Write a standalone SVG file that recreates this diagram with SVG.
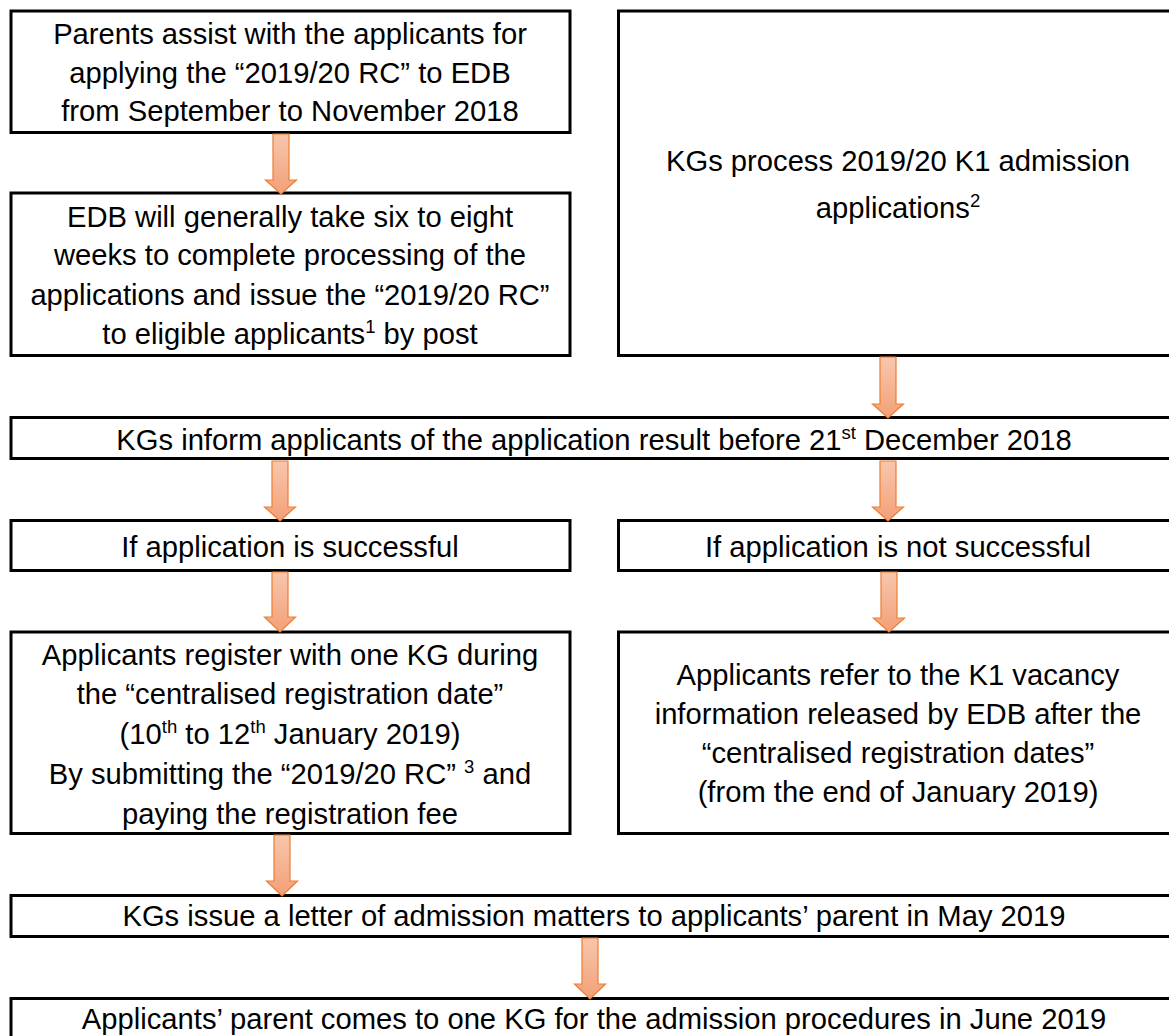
<svg xmlns="http://www.w3.org/2000/svg" width="1169" height="1036" viewBox="0 0 1169 1036">
<style>
.box{fill:#fff;stroke:#000;stroke-width:3}
text{font-family:"Liberation Sans",Arial,sans-serif;font-size:29.2px;fill:#000;text-anchor:middle}
.sup{font-size:18.5px}
.arr{fill:url(#g);stroke:#ed7d31;stroke-width:1.2}
</style>
<defs>
<linearGradient id="g" x1="0" y1="0" x2="0" y2="1">
<stop offset="0" stop-color="#f8c6ad"/>
<stop offset="1" stop-color="#f2a077"/>
</linearGradient>
</defs>
<rect width="1169" height="1036" fill="#fff"/>
<g id="n1"><rect class="box" x="11" y="11" width="559" height="121.5"/>
<text x="290" y="44">Parents assist with the applicants for</text>
<text x="290" y="83">applying the “2019/20 RC” to EDB</text>
<text x="290" y="121">from September to November 2018</text></g>
<g id="n2"><rect class="box" x="11" y="193" width="559" height="162.5"/>
<text x="290" y="227">EDB will generally take six to eight</text>
<text x="290" y="265">weeks to complete processing of the</text>
<text x="290" y="305">applications and issue the “2019/20 RC”</text>
<text x="290" y="344">to eligible applicants<tspan class="sup" dy="-11">1</tspan><tspan dy="11"> by post</tspan></text></g>
<g id="n3"><rect class="box" x="618.5" y="11" width="560" height="344.5"/>
<text x="898" y="171">KGs process 2019/20 K1 admission</text>
<text x="898" y="218">applications<tspan class="sup" dy="-11">2</tspan></text></g>
<g id="n4"><rect class="box" x="11" y="417.5" width="1167" height="41"/>
<text x="594" y="450">KGs inform applicants of the application result before 21<tspan class="sup" dy="-11">st</tspan><tspan dy="11"> December 2018</tspan></text></g>
<g id="n5"><rect class="box" x="11" y="520.5" width="559" height="50"/>
<text x="290" y="557">If application is successful</text></g>
<g id="n6"><rect class="box" x="618.5" y="520.5" width="560" height="50"/>
<text x="898" y="557">If application is not successful</text></g>
<g id="n7"><rect class="box" x="11" y="632" width="559" height="201.5"/>
<text x="290" y="665">Applicants register with one KG during</text>
<text x="290" y="704">the “centralised registration date”</text>
<text x="290" y="744"> (10<tspan class="sup" dy="-11">th</tspan><tspan dy="11"> to 12</tspan><tspan class="sup" dy="-11">th</tspan><tspan dy="11"> January 2019)</tspan></text>
<text x="290" y="784">By submitting the “2019/20 RC” <tspan class="sup" dy="-11">3</tspan><tspan dy="11"> and</tspan></text>
<text x="290" y="824">paying the registration fee</text></g>
<g id="n8"><rect class="box" x="618.5" y="632" width="560" height="201.5"/>
<text x="898" y="685">Applicants refer to the K1 vacancy</text>
<text x="898" y="724">information released by EDB after the</text>
<text x="898" y="763">“centralised registration dates”</text>
<text x="898" y="802">(from the end of January 2019)</text></g>
<g id="n9"><rect class="box" x="11" y="895.5" width="1167" height="41"/>
<text x="594" y="926">KGs issue a letter of admission matters to applicants’ parent in May 2019</text></g>
<g id="n10"><rect class="box" x="11" y="998.5" width="1167" height="60"/>
<text x="594" y="1029">Applicants’ parent comes to one KG for the admission procedures in June 2019</text></g>
<g id="connectors">
<path class="arr" d="M273,134 H289 V180 H296.5 L281,194 L265.5,180 H273 Z"/>
<path class="arr" d="M880,357 H896 V404 H903.5 L888,418 L872.5,404 H880 Z"/>
<path class="arr" d="M272,461 H288 V507 H295.5 L280,521 L264.5,507 H272 Z"/>
<path class="arr" d="M880,461 H896 V507 H903.5 L888,521 L872.5,507 H880 Z"/>
<path class="arr" d="M272,572 H288 V617 H295.5 L280,632 L264.5,617 H272 Z"/>
<path class="arr" d="M881,572 H897 V618 H904.5 L889,632 L873.5,618 H881 Z"/>
<path class="arr" d="M274,835 H290 V881 H297.5 L282,896 L266.5,881 H274 Z"/>
<path class="arr" d="M582,938 H598 V984 H605.5 L590,999 L574.5,984 H582 Z"/>
</g>
</svg>
